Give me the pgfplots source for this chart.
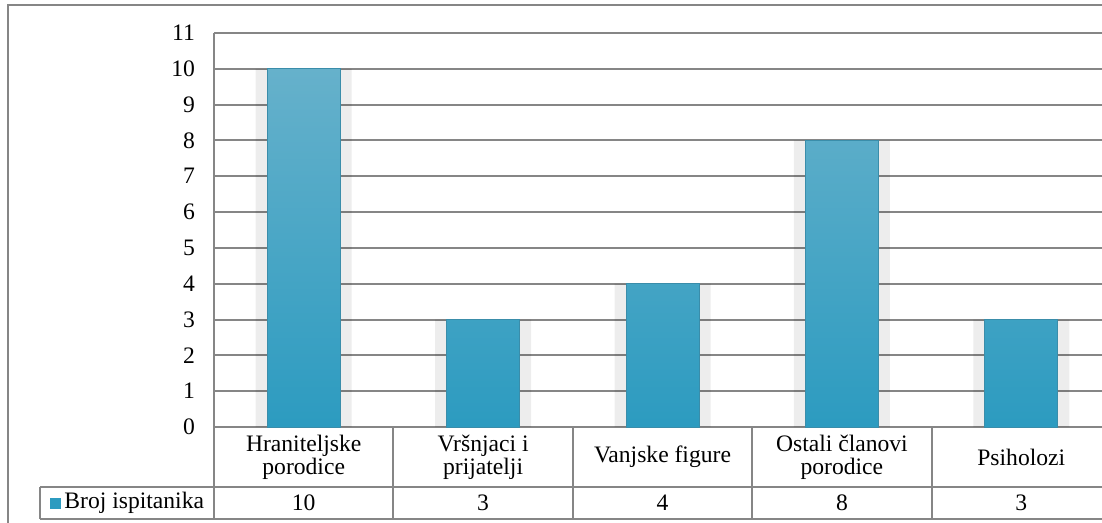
\documentclass[border=0pt]{standalone}
\usepackage{fontspec}
\setmainfont{Liberation Serif}
\usepackage{pgfplots}
\pgfplotsset{compat=1.18}
\definecolor{gridgray}{HTML}{868686}
\definecolor{bartop}{HTML}{66B1CB}
\definecolor{barbot}{HTML}{2C9BC0}
\definecolor{baredge}{HTML}{3A8DAA}
\newcommand{\fs}{\fontsize{11.8}{11.5}\selectfont}
\begin{document}
\begin{tikzpicture}
\clip (0,0) rectangle (551pt,-261.5pt);
\fill[white] (0,0) rectangle (551pt,-261.5pt);
\begin{axis}[
  at={(107pt,-213.5pt)}, anchor=south west,
  scale only axis, width=448.5pt, height=197pt,
  xmin=-0.5, xmax=4.5, ymin=0, ymax=11,
  ytick={0,...,11}, xtick={0,...,4},
  xticklabels={{Hraniteljske\\porodice},{Vršnjaci i\\prijatelji},{Vanjske figure},{Ostali članovi\\porodice},{Psiholozi}},
  xticklabel style={anchor=center, yshift=-15pt, align=center, font=\fs},
  yticklabel style={font=\fs, xshift=-6pt},
  /pgf/number format/assume math mode=true,
  major tick length=0pt,
  ymajorgrids, grid style={gridgray, line width=1pt},
  axis line style={draw=none},
  clip=false,
]
\addplot[ybar, bar width=48pt, bar shift=0pt, fill=black, fill opacity=0.07, draw=none]
  coordinates {(0,10) (1,3) (2,4) (3,8) (4,3)};
\addplot[ybar, bar width=36.5pt, bar shift=0pt, top color=bartop, bottom color=barbot, draw=baredge, line width=0.5pt]
  coordinates {(0,10) (1,3) (2,4) (3,8) (4,3)};
\addplot[draw=none, nodes near coords, point meta=explicit symbolic,
  nodes near coords style={anchor=center, yshift=-38pt, font=\fs}]
  coordinates {(0,0) [10] (1,0) [3] (2,0) [4] (3,0) [8] (4,0) [3]};
\end{axis}
\begin{scope}[x=0.5pt, y=-0.5pt]
\draw[gridgray, line width=1pt] (8,1200) -- (8,5) -- (1200,5);
\draw[gridgray, line width=1pt] (214,33) -- (214,519);
\foreach \xx in {393,573,752,932} \draw[gridgray, line width=1pt] (\xx,427) -- (\xx,519);
\draw[gridgray, line width=1pt] (40,487) -- (1200,487);
\draw[gridgray, line width=1pt] (40,519) -- (1200,519);
\draw[gridgray, line width=1pt] (40,487) -- (40,519);
\fill[barbot] (50,498) rectangle (61,509);
\node[anchor=west, inner sep=0pt, font=\fs] at (64,503) {Broj ispitanika};
\end{scope}
\end{tikzpicture}
\end{document}
